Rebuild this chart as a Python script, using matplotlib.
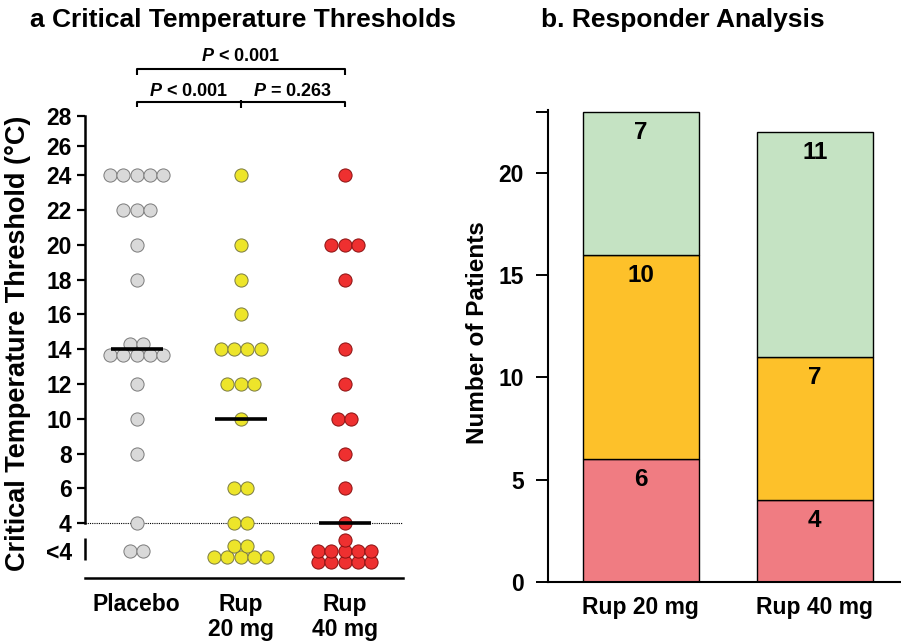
import numpy as np
import matplotlib.pyplot as plt

plt.rcParams['font.family'] = ['Liberation Sans', 'DejaVu Sans']
plt.rcParams['font.weight'] = 'bold'
plt.rcParams['mathtext.fontset'] = 'custom'
plt.rcParams['mathtext.it'] = 'Liberation Sans:italic:bold'
plt.rcParams['mathtext.rm'] = 'Liberation Sans:bold'

# --- dati pannello a: soglie di temperatura (valore, numero di pazienti) ---
groups = ['Placebo', 'Rup\n20 mg', 'Rup\n40 mg']
placebo_vals = [24, 22, 20, 18, 14, 12, 10, 8, 4, '<4']
placebo_counts = [5, 3, 1, 1, 7, 1, 1, 1, 1, 2]
rup20_vals = [24, 20, 18, 16, 14, 12, 10, 6, 4, '<4']
rup20_counts = [1, 1, 1, 1, 4, 3, 1, 2, 2, 7]
rup40_vals = [24, 20, 18, 14, 12, 10, 8, 6, 4, '<4']
rup40_counts = [1, 3, 1, 1, 1, 2, 1, 1, 1, 11]
medians = [14, 10, 4]
p_values = ['$P$ < 0.001', '$P$ = 0.263', '$P$ < 0.001']

# --- dati pannello b: responder ---
resp_groups = ['Rup 20 mg', 'Rup 40 mg']
resp_low = [6, 4]
resp_mid = [10, 7]
resp_high = [7, 11]

# stile
BELOW4_POS = 2.4      # posizione in grafico della categoria "<4"
ROW_MAX = 5
DX = 0.128
DY = 0.63
face_cols = ['#d9d9d9', '#ede52a', '#ee3030']
edge_cols = ['#7a7a7a', '#7a7a40', '#8a1010']
seg_cols = ['#f07c82', '#fdc12a', '#c5e3c3']

fig = plt.figure(figsize=(9.01, 6.44), dpi=100)

# ================= pannello a =================
ax1 = fig.add_axes([85/901, 1 - 578/644, 318/901, 462/644])
ax1.set_xlim(-0.497, 2.56)
ax1.set_ylim(0.85, 27.4)

all_vals = [placebo_vals, rup20_vals, rup40_vals]
all_counts = [placebo_counts, rup20_counts, rup40_counts]

for g, (vals, counts) in enumerate(zip(all_vals, all_counts)):
    xs, ys = [], []
    for v, n in zip(vals, counts):
        y0 = BELOW4_POS if v == '<4' else v
        rows = [min(ROW_MAX, n - k) for k in range(0, n, ROW_MAX)]
        nr = len(rows)
        for r, m in enumerate(rows):
            yr = y0 + (r - (nr - 1) / 2) * DY
            for i in range(m):
                xs.append(g + (i - (m - 1) / 2) * DX)
                ys.append(yr)
    ax1.scatter(xs, ys, s=90, c=face_cols[g], edgecolors=edge_cols[g],
                linewidths=0.7, zorder=3, clip_on=False)

for g, med in enumerate(medians):
    ax1.plot([g - 0.25, g + 0.25], [med, med], color='black', lw=2.6,
             zorder=4, solid_capstyle='butt')

ax1.axhline(4, color='black', lw=0.8, linestyle=(0, (1, 1)), zorder=2)

for s in ['top', 'right']:
    ax1.spines[s].set_visible(False)
ax1.spines['left'].set_bounds(4, 27.4)
ax1.spines['left'].set_linewidth(1.8)
ax1.spines['bottom'].set_linewidth(1.8)
ax1.plot([0, 0], [1.87, 3.14], transform=ax1.get_yaxis_transform(),
         color='black', lw=1.8, clip_on=False, solid_capstyle='butt')

tick_pos = [BELOW4_POS] + list(range(4, 25, 2)) + [25.7, 27.4]
tick_lab = ['<4'] + [str(t) for t in range(4, 25, 2)] + ['26', '28']
ax1.set_yticks(tick_pos, tick_lab)
ax1.tick_params(axis='y', length=6, width=1.6, pad=3.5, labelsize=16.5)
ax1.yaxis.get_major_ticks()[0].tick1line.set_visible(False)

ax1.set_xticks([0, 1, 2], groups)
ax1.tick_params(axis='x', length=0, pad=11, labelsize=16.5)
for t in ax1.get_xticklabels():
    t.set_linespacing(1.1)

# parentesi e p-value
br_kw = dict(color='black', lw=1.5, clip_on=False, solid_capstyle='butt')
ax1.plot([0, 0, 2, 2], [27.94, 28.22, 28.22, 27.94], **br_kw)
ax1.plot([1, 1], [27.86, 28.32], **br_kw)
ax1.plot([0, 0, 2, 2], [29.76, 30.08, 30.08, 29.76], **br_kw)
ax1.text(0.5, 28.8, p_values[0], ha='center', va='center', fontsize=13, clip_on=False)
ax1.text(1.5, 28.8, p_values[1], ha='center', va='center', fontsize=13, clip_on=False)
ax1.text(1.0, 30.81, p_values[2], ha='center', va='center', fontsize=13, clip_on=False)

fig.text(18/901, 1 - 343/644, 'Critical Temperature Threshold (°C)', rotation=90,
         ha='center', va='center', fontsize=19.5)
fig.text(243/901, 1 - 20/644, 'a Critical Temperature Thresholds',
         ha='center', va='center', fontsize=19)

# ================= pannello b =================
ax2 = fig.add_axes([548/901, 1 - 582/644, 353/901, 472/644])
ax2.set_xlim(-0.533, 1.496)
ax2.set_ylim(0, 23.08)

x = np.arange(len(resp_groups))
bottom = np.zeros(len(resp_groups))
for seg, col in zip([resp_low, resp_mid, resp_high], seg_cols):
    seg = np.array(seg)
    ax2.bar(x, seg, width=0.667, bottom=bottom, color=col, edgecolor='black', lw=1)
    for xi, b, h in zip(x, bottom, seg):
        ax2.text(xi, b + h - 1, str(h), ha='center', va='center', fontsize=17.5)
    bottom = bottom + seg

for s in ['top', 'right']:
    ax2.spines[s].set_visible(False)
ax2.spines['left'].set_linewidth(1.5)
ax2.spines['bottom'].set_linewidth(1.5)
ax2.set_yticks([0, 5, 10, 15, 20, 23], ['0', '5', '10', '15', '20', ''])
ax2.tick_params(axis='y', length=9, width=1.4, pad=8.5, labelsize=16.5)
ax2.set_xticks(x, resp_groups)
ax2.tick_params(axis='x', length=0, pad=10, labelsize=16.5)

fig.text(478/901, 1 - 333/644, 'Number of Patients', rotation=90,
         ha='center', va='center', fontsize=17.5)
fig.text(683/901, 1 - 20/644, 'b. Responder Analysis',
         ha='center', va='center', fontsize=19)

fig.savefig('out.png', dpi=100)
